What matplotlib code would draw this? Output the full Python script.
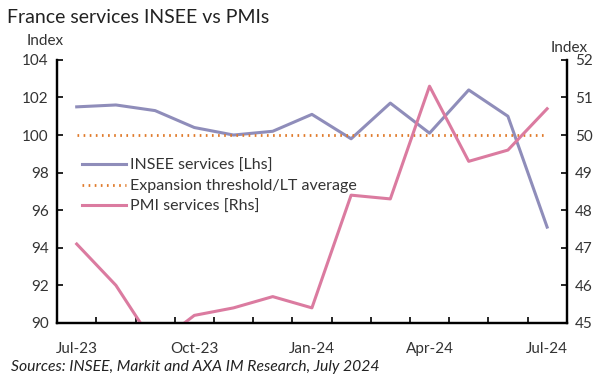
import numpy as np
import matplotlib.pyplot as plt

plt.rcParams['font.family'] = ['Lato', 'DejaVu Sans']

months = ['Jul-23', 'Aug-23', 'Sep-23', 'Oct-23', 'Nov-23', 'Dec-23', 'Jan-24',
          'Feb-24', 'Mar-24', 'Apr-24', 'May-24', 'Jun-24', 'Jul-24']
insee = [101.5, 101.6, 101.3, 100.4, 100.0, 100.2, 101.1,
         99.8, 101.7, 100.1, 102.4, 101.0, 95.1]
pmi = [47.1, 46.0, 44.4, 45.2, 45.4, 45.7, 45.4,
       48.4, 48.3, 51.3, 49.3, 49.6, 50.7]
threshold = [100] * len(months)

c_insee = '#8F8DBA'
c_pmi = '#DB7BA0'
c_thr = '#E07A2A'

x = np.arange(len(months))

fig = plt.figure(figsize=(6.14, 3.79), dpi=100)
ax = fig.add_axes([0.093, 0.148, 0.830, 0.694])
ax2 = ax.twinx()

l1, = ax.plot(x, insee, color=c_insee, lw=2.2, label='INSEE services [Lhs]')
l2, = ax.plot(x, threshold, color=c_thr, lw=2, ls=(0, (0.6, 1.6)),
              label='Expansion threshold/LT average')
l3, = ax2.plot(x, pmi, color=c_pmi, lw=2.2, label='PMI services [Rhs]')

ax.set_xlim(-0.5, 12.5)
ax.set_ylim(90, 104)
ax.set_yticks(np.arange(90, 105, 2))
ax2.set_ylim(45, 52)
ax2.set_yticks(np.arange(45, 53, 1))

ax.set_xticks(x[::3])
ax.set_xticklabels(months[::3])
ax.set_xticks(np.arange(-0.5, 13, 1), minor=True)
ax.tick_params(axis='x', which='major', length=0, pad=14, labelsize=11, colors='#333333')
ax.tick_params(axis='x', which='minor', length=4, width=1.2, direction='in')
ax.tick_params(axis='y', length=4, width=1.2, direction='in', labelsize=11,
               labelcolor='#333333', pad=6)
ax2.tick_params(axis='y', length=4, width=1.2, direction='in', labelsize=11,
                labelcolor='#333333', pad=6)

for a in (ax, ax2):
    a.spines['top'].set_visible(False)
    for s in ('left', 'right', 'bottom'):
        a.spines[s].set_linewidth(1.6)
        a.spines[s].set_color('black')

ax.legend(handles=[l1, l2, l3], loc='upper left', bbox_to_anchor=(0.02, 0.68),
          frameon=False, fontsize=11.5, handlelength=2.8, handletextpad=0.25,
          labelspacing=0.4, labelcolor='#333333')

fig.text(0.012, 0.955, 'France services INSEE vs PMIs', fontsize=14,
         color='#222222', va='center')
fig.text(0.044, 0.893, 'Index', fontsize=11, color='#333333', va='center')
fig.text(0.897, 0.874, 'Index', fontsize=11, color='#333333', va='center')
fig.text(0.018, 0.031, 'Sources: INSEE, Markit and AXA IM Research, July 2024',
         fontsize=11.3, style='italic', color='#222222', va='center')

fig.savefig('out.png', dpi=100)
